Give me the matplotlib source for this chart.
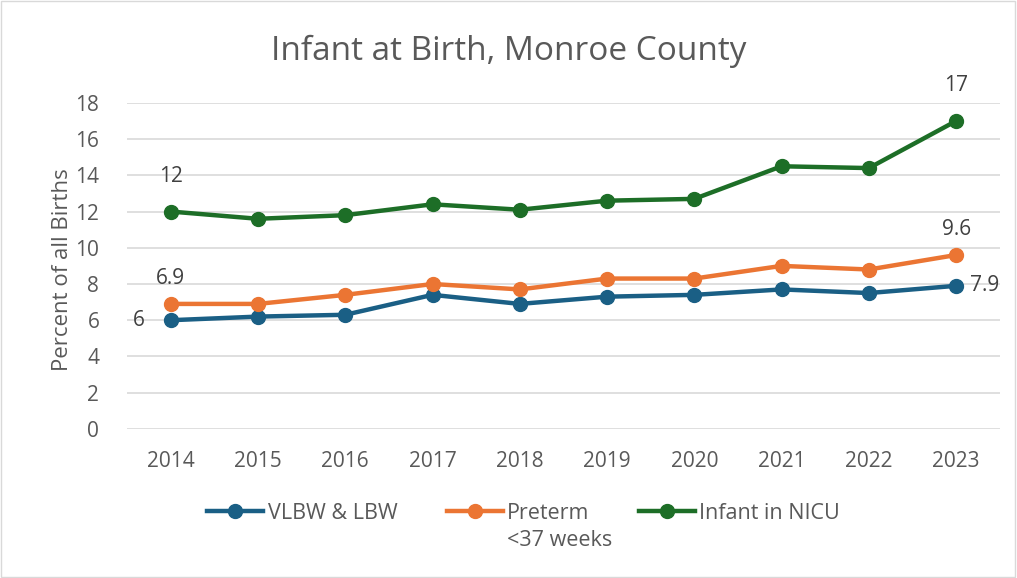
import matplotlib
matplotlib.use("Agg")
import matplotlib.pyplot as plt

plt.rcParams['font.family'] = ['Open Sans', 'DejaVu Sans']

# data
years = ["2014", "2015", "2016", "2017", "2018", "2019", "2020", "2021", "2022", "2023"]
vlbw_lbw = [6.0, 6.2, 6.3, 7.4, 6.9, 7.3, 7.4, 7.7, 7.5, 7.9]
preterm = [6.9, 6.9, 7.4, 8.0, 7.7, 8.3, 8.3, 9.0, 8.8, 9.6]
nicu = [12.0, 11.6, 11.8, 12.4, 12.1, 12.6, 12.7, 14.5, 14.4, 17.0]
yticks = [0, 2, 4, 6, 8, 10, 12, 14, 16, 18]

blue = "#1a5f85"
orange = "#eb7533"
green = "#1d6e27"
text_col = "#595959"

fig = plt.figure(figsize=(10.17, 5.78), dpi=100)
fig.patches.append(plt.Rectangle((0.001, 0.001), 0.997, 0.997, transform=fig.transFigure,
                                 fill=False, edgecolor="#d9d9d9", linewidth=1))
ax = fig.add_axes([0.125, 0.258, 0.858, 0.564])

x = list(range(len(years)))
l1, = ax.plot(x, vlbw_lbw, color=blue, lw=3.2, marker="o", ms=10, label="VLBW & LBW", zorder=3)
l2, = ax.plot(x, preterm, color=orange, lw=3.2, marker="o", ms=10, label="Preterm", zorder=3)
l3, = ax.plot(x, nicu, color=green, lw=3.2, marker="o", ms=10, label="Infant in NICU", zorder=3)

# data labels on first and last points
lab_kw = dict(fontsize=15, color="#404040")
ax.annotate(f"{nicu[0]:g}", (x[0], nicu[0]), xytext=(0, 18), textcoords="offset points", ha="center", va="bottom", **lab_kw)
ax.annotate(f"{nicu[-1]:g}", (x[-1], nicu[-1]), xytext=(0, 18), textcoords="offset points", ha="center", va="bottom", **lab_kw)
ax.annotate(f"{preterm[0]:g}", (x[0], preterm[0]), xytext=(0, 11), textcoords="offset points", ha="center", va="bottom", **lab_kw)
ax.annotate(f"{preterm[-1]:g}", (x[-1], preterm[-1]), xytext=(0, 11), textcoords="offset points", ha="center", va="bottom", **lab_kw)
ax.annotate(f"{vlbw_lbw[0]:g}", (x[0], vlbw_lbw[0]), xytext=(-19, 0), textcoords="offset points", ha="right", va="center", **lab_kw)
ax.annotate(f"{vlbw_lbw[-1]:g}", (x[-1], vlbw_lbw[-1]), xytext=(10, 0), textcoords="offset points", ha="left", va="center", **lab_kw)

ax.set_xlim(-0.5, len(years) - 0.5)
ax.set_ylim(0, 18)
ax.set_xticks(x)
ax.set_xticklabels(years)
ax.set_yticks(yticks)
ax.tick_params(axis="both", length=0, labelsize=15, colors=text_col)
ax.tick_params(axis="x", pad=16)
ax.tick_params(axis="y", pad=20)
ax.grid(axis="y", color="#d9d9d9", lw=1.2)
ax.set_axisbelow(True)
for s in ax.spines.values():
    s.set_visible(False)

ax.set_ylabel("Percent of all Births", fontsize=16, color=text_col)
ax.yaxis.set_label_coords(-0.062, 0.49)
fig.suptitle("Infant at Birth, Monroe County", fontsize=24, color=text_col, y=0.94)

leg = fig.legend(handles=[l1, l2, l3], loc="center", bbox_to_anchor=(0.515, 0.112), ncol=3,
                 frameon=False, fontsize=15.5, labelcolor=text_col, handlelength=2.6,
                 handletextpad=0.2, columnspacing=2.3)

# second line of the Preterm label, left-aligned under the first line
fig.canvas.draw()
bb = leg.get_texts()[1].get_window_extent().transformed(fig.transFigure.inverted())
fig.text(bb.x0, bb.y0 - 0.01, "<37 weeks", fontsize=15.5, color=text_col, ha="left", va="top")

fig.savefig("out.png", dpi=100)
